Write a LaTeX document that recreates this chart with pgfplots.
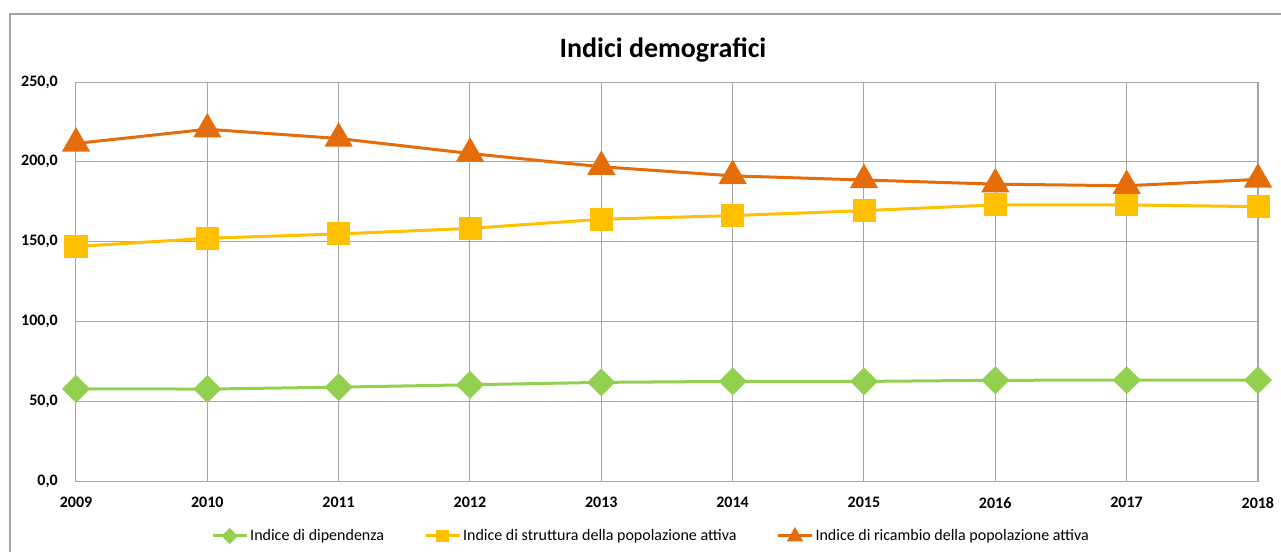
\documentclass[border=0pt]{standalone}
\usepackage{pgfplots}
\pgfplotsset{compat=1.18}
\usepackage{fontspec}
\setmainfont{Carlito}
\definecolor{cgreen}{HTML}{92D050}
\definecolor{cyellow}{HTML}{FFC000}
\definecolor{corange}{HTML}{E46C0A}
\definecolor{cgrid}{HTML}{A6A6A6}
\begin{document}
\begin{tikzpicture}
\useasboundingbox (0pt,0pt) rectangle (960.75pt,413.25pt);
\clip (0pt,0pt) rectangle (960.75pt,413.25pt);
\draw[cgrid, line width=1.3pt] (7.5pt,-10pt) -- (7.5pt,402.75pt) -- (975pt,402.75pt);
\node[font=\bfseries\fontsize{21}{25}\selectfont, anchor=base] at (497.25pt,369.75pt) {Indici demografici};
\begin{axis}[
  at={(57pt,52.5pt)}, anchor=south west, scale only axis,
  width=886.5pt, height=299.25pt,
  xmin=2009, xmax=2018, ymin=0, ymax=250,
  xtick={2009,...,2018}, ytick={0,50,...,250},
  grid=major, grid style={cgrid, line width=0.75pt},
  axis line style={cgrid, line width=0.75pt},
  major tick length=0pt,
  /pgf/number format/assume math mode=true,
  xticklabel style={font=\bfseries\fontsize{12}{14}\selectfont, inner sep=0pt, anchor=north, yshift=-12pt, /pgf/number format/1000 sep={}},
  yticklabel style={font=\bfseries\fontsize{12}{14}\selectfont, inner sep=0pt, anchor=east, xshift=-13.5pt},
  y tick label style={/pgf/number format/.cd, fixed, fixed zerofill, precision=1, use comma},
  clip=false,
  legend columns=3,
  legend style={at={(0.1142,-0.1378)}, anchor=west, draw=none, fill=none, inner sep=0pt,
    font=\fontsize{12}{14}\selectfont,
    nodes={inner sep=0pt, anchor=west},
    /tikz/every odd column/.append style={column sep=1.5pt},
    /tikz/every even column/.append style={column sep=30pt}},
]
\addplot[cgreen, line width=2.25pt, mark=square*, mark size=6.3pt, mark options={rotate=45, solid, fill=cgreen},
  legend image code/.code={\draw[cgreen, line width=2.25pt] (0pt,0pt) -- (25.5pt,0pt); \fill[cgreen] (12.75pt,4.5pt) -- (17.25pt,0pt) -- (12.75pt,-4.5pt) -- (8.25pt,0pt) -- cycle;}]
  coordinates {(2009,57.8) (2010,57.6) (2011,58.8) (2012,60.3) (2013,61.8) (2014,62.4) (2015,62.4) (2016,63.1) (2017,63.2) (2018,63.2)};
\addlegendentry{Indice di dipendenza}
\addplot[cyellow, line width=2.25pt, mark=square*, mark size=7.5pt, mark options={solid, fill=cyellow},
  legend image code/.code={\draw[cyellow, line width=2.25pt] (0pt,0pt) -- (25.5pt,0pt); \fill[cyellow] (9.25pt,-3.5pt) rectangle (16.25pt,3.5pt);}]
  coordinates {(2009,146.9) (2010,152.1) (2011,154.8) (2012,158.3) (2013,164.0) (2014,166.3) (2015,169.4) (2016,173.0) (2017,173.0) (2018,171.9)};
\addlegendentry{Indice di struttura della popolazione attiva}
\addplot[corange, line width=2.25pt, mark=triangle*, mark size=10pt, mark options={solid, fill=corange},
  legend image code/.code={\draw[corange, line width=2.25pt] (0pt,0pt) -- (25.5pt,0pt); \fill[corange] (12.75pt,4.5pt) -- (17pt,-3pt) -- (8.5pt,-3pt) -- cycle;}]
  coordinates {(2009,211.5) (2010,220.4) (2011,214.6) (2012,205.2) (2013,196.9) (2014,191.2) (2015,188.6) (2016,186.0) (2017,185.0) (2018,189.0)};
\addlegendentry{Indice di ricambio della popolazione attiva}
\end{axis}
\end{tikzpicture}
\end{document}
